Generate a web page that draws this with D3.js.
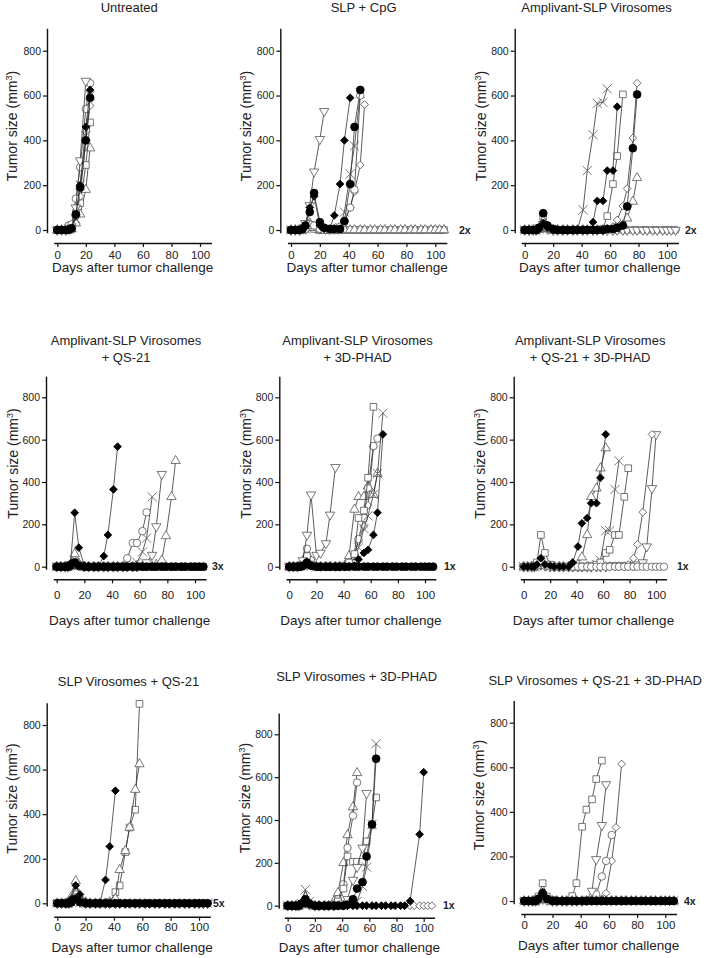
<!DOCTYPE html>
<html><head><meta charset="utf-8">
<script src="https://cdn.jsdelivr.net/npm/d3@7"></script>
<style>
body{margin:0;background:#fff}
svg{display:block}
text{font-family:"Liberation Sans",Arial,sans-serif;fill:#222}
</style>
</head><body>
<svg id="c" width="709" height="958"></svg>
<script>
// ---------- DATA ----------
const days = [0,3,6,8,10,13,16,20,23,27,30,34,37,41,44,48,51,55,58,62,65,69,72,76,79,83,86,90,93,97,100,103,106];
const titles = [["Untreated"],["SLP + CpG"],["Amplivant-SLP Virosomes"],
  ["Amplivant-SLP Virosomes","+ QS-21"],["Amplivant-SLP Virosomes","+ 3D-PHAD"],
  ["Amplivant-SLP Virosomes","+ QS-21 + 3D-PHAD"],
  ["SLP Virosomes + QS-21"],["SLP Virosomes + 3D-PHAD"],["SLP Virosomes + QS-21 + 3D-PHAD"]];
const tumorFree = ["","2x","2x","3x","1x","1x","5x","1x","4x"];
const yTicks = [0,200,400,600,800];
const xTicks = [0,20,40,60,80,100];
const xLabel = "Days after tumor challenge";

const untreated = [
  ["tu",[0,0,0,0,5,30,70,180,365]],
  ["os",[0,0,0,0,5,75,120,290,480]],
  ["od",[0,0,0,0,5,60,150,400,555]],
  ["x", [0,0,0,5,10,50,200,420,600]],
  ["oc",[0,0,0,20,25,140,280,540,655]],
  ["td",[0,0,0,5,10,100,310,665]],
  ["fd",[0,0,0,2,5,65,200,460,625]],
  ["fc",[0,0,0,2,8,70,190,400,590]]
];
const slpCpg = [
  ["os",[0,0,0,0,5,20,5,0,0,0, 0,0,0,0,0,0,0,0,0,0, 0,0,0,0,0,0,0,0,0,0, 0,0,0]],
  ["tu",[0,0,0,5,10,30,10,0,0,0, 0,0,0,0,0,0,0,0,0,0, 0,0,0,0,0,0,0,0,0,0, 0,0,0]],
  ["od",[0,0,0,0,5,15,20,5,0,0, 5,10,40,100,170,290,560]],
  ["x", [0,0,0,0,5,20,25,5,0,0, 0,10,80,250,375,610]],
  ["oc",[0,0,0,0,5,25,20,5,0,0, 5,15,35,100,180,600]],
  ["td",[0,0,0,10,30,110,260,405,530]],
  ["fd",[0,0,0,5,15,100,150,20,5,5, 65,205,400,590]],
  ["fc",[0,0,0,5,20,80,165,35,10,5, 5,5,40,205,460,625]]
];
const amplivant = [
  ["oc",[0,0,0,0,5,30,5,0,0,0, 0,0,0,0,0,0,0,0,0,0, 0,0,0,0,0,0,0,0,0,0, 0,0,0]],
  ["td",[0,0,0,0,5,25,5,0,0,0, 0,0,0,0,0,0,0,0,0,0, 0,0,0,0,0,0,0,0,0,0, 0,0,0]],
  ["tu",[0,0,0,0,5,25,5,0,0,0, 0,0,0,0,0,0,0,0,0,5, 15,20,52,127,233]],
  ["od",[0,0,0,0,5,20,5,0,0,0, 0,0,0,0,0,0,0,0,5,15, 45,107,185,410,655]],
  ["os",[0,0,0,0,5,60,10,0,0,0, 0,0,0,0,0,0,0,5,62,205, 330,605]],
  ["x", [0,0,0,0,5,20,5,0,0,0, 0,0,0,90,265,425,565,570,630]],
  ["fd",[0,0,0,0,5,30,10,0,0,0, 0,0,0,0,0,35,130,130,265,265, 550]],
  ["fc",[0,0,0,0,10,75,20,5,0,0, 0,0,0,0,0,0,0,0,5,5, 10,20,105,365,605]]
];
const ampQS21 = [
  ["tu",[0,0,0,0,10,60,15,0,0,0, 0,0,0,0,0,0,0,0,0,0, 0,0,10,30,145,330,500]],
  ["td",[0,0,0,0,5,15,5,0,0,0, 0,0,0,0,0,0,0,0,0,5, 20,55,190,437]],
  ["x", [0,0,0,0,5,20,5,0,0,0, 0,0,0,0,0,0,0,10,20,70, 135,330]],
  ["oc",[0,0,0,0,5,30,10,0,0,0, 0,0,0,0,0,5,40,112,112,168, 257]],
  ["os",[0,0,0,0,5,20,5,0,0,0, 0,0,0,0,0,0,0,0,0,0, 0,0,0,0,0,0,0,0,0,0, 0,0,0]],
  ["od",[0,0,0,0,5,15,5,0,0,0, 0,0,0,0,0,0,0,0,0,0, 0,0,0,0,0,0,0,0,0,0, 0,0,0]],
  ["fd",[0,0,0,5,15,255,90,5,0,0, 0,50,150,365,567]],
  ["fc",[0,0,0,0,5,20,5,0,0,0, 0,0,0,0,0,0,0,0,0,0, 0,0,0,0,0,0,0,0,0,0, 0,0,0]]
];
const ampPHAD = [
  ["od",[0,0,0,0,5,30,10,0,0,0, 0,0,0,0,20,60,120,190,290,567]],
  ["tu",[0,0,0,0,10,60,20,0,0,0, 0,0,0,5,50,270,330,330,380,340, 440]],
  ["oc",[0,0,0,0,10,85,30,0,0,0, 0,0,0,0,20,50,130,230,370,570, 605]],
  ["x", [0,0,0,0,5,30,5,0,0,0, 0,0,0,0,10,40,90,180,240,340, 440,725]],
  ["os",[0,0,0,0,10,50,10,0,0,0, 0,0,0,5,20,60,230,265,420,755]],
  ["td",[0,0,0,5,30,150,340,55,65,110, 245,470]],
  ["fd",[0,0,0,0,5,10,5,0,0,0, 0,0,0,0,0,5,35,65,80,150, 255,625]],
  ["fc",[0,0,0,0,5,20,5,0,0,0, 0,0,0,0,0,0,0,0,0,0, 0,0,0,0,0,0,0,0,0,0, 0,0,0]]
];
const ampQS21PHAD = [
  ["td",[0,0,0,0,5,10,5,0,0,0, 0,0,0,0,0,0,0,0,0,0, 5,5,5,5,5,5,10,20,95,370, 625]],
  ["od",[0,0,0,0,5,10,5,0,0,0, 0,0,0,0,0,0,0,0,0,5, 5,5,5,5,10,40,105,257,null,625]],
  ["x", [0,0,0,0,5,15,5,0,0,0, 0,0,0,0,0,0,5,10,30,170, 170,365,500]],
  ["tu",[0,0,0,0,5,20,5,0,0,0, 0,0,0,10,45,150,330,370,465,560]],
  ["os",[0,0,0,5,20,150,65,10,0,0, 0,0,0,0,0,0,5,10,20,65, 80,150,150,330,465]],
  ["oc",[0,0,0,0,5,20,5,0,0,0, 0,0,0,0,0,0,0,0,0,0, 0,0,0,0,0,0,0,0,0,0, 0,0,0]],
  ["fd",[0,0,0,0,10,40,10,5,0,0, 0,0,20,95,205,230,300,300,420,625]]
];
const slpQS21 = [
  ["os",[0,0,0,0,10,50,15,0,0,0, 0,0,5,50,80,230,340,420,895]],
  ["tu",[0,0,0,5,30,100,20,5,0,0, 0,0,5,20,150,235,340,510,625]],
  ["oc",[0,0,0,0,5,40,10,0,0,0, 0,0,0,0,0,0,0,0,0,0, 0,0,0,0,0,0,0,0,0,0, 0,0,0]],
  ["td",[0,0,0,0,5,30,5,0,0,0, 0,0,0,0,0,0,0,0,0,0, 0,0,0,0,0,0,0,0,0,0, 0,0,0]],
  ["od",[0,0,0,0,5,20,5,0,0,0, 0,0,0,0,0,0,0,0,0,0, 0,0,0,0,0,0,0,0,0,0, 0,0,0]],
  ["x", [0,0,0,0,5,25,5,0,0,0, 0,0,0,0,0,0,0,0,0,0, 0,0,0,0,0,0,0,0,0,0, 0,0,0]],
  ["fd",[0,0,0,5,20,80,40,5,0,0, 0,105,255,505]],
  ["fc",[0,0,0,0,5,20,5,0,0,0, 0,0,0,0,0,0,0,0,0,0, 0,0,0,0,0,0,0,0,0,0, 0,0,0]]
];
const slpPHAD = [
  ["od",[0,0,0,0,5,15,5,0,0,0, 0,0,0,0,0,0,0,0,0,0, 0,0,0,0,0,0,0,0,0,0, 0,0,0]],
  ["tu",[0,0,0,0,10,40,10,0,0,0, 0,20,60,200,330,460,620]],
  ["oc",[0,0,0,0,5,25,5,0,0,0, 0,10,30,100,270,420,575]],
  ["os",[0,0,0,0,5,20,5,0,0,0, 0,5,20,80,230,205,205,205,300,375, 505]],
  ["td",[0,0,0,0,5,15,5,0,0,0, 0,0,5,10,30,120,180,270,525]],
  ["x", [0,0,0,0,10,75,20,0,0,0, 0,0,0,0,5,10,20,90,180,380, 756]],
  ["fd",[0,0,0,0,5,10,5,0,0,0, 0,0,0,0,0,0,0,0,0,0, 0,0,0,0,0,0,0,22,null,333, 623]],
  ["fc",[0,0,0,0,10,30,10,0,0,0, 0,0,0,0,5,30,80,110,230,380, 686]]
];
const slpQS21PHAD = [
  ["od",[0,0,0,0,5,10,5,0,0,0, 0,0,0,0,0,0,5,10,35,180, 330,615]],
  ["oc",[0,0,0,0,5,15,5,0,0,0, 0,0,0,0,0,5,30,110,180,296]],
  ["td",[0,0,0,0,5,15,5,0,0,0, 0,0,0,0,5,45,187,340,523]],
  ["os",[0,0,0,5,20,80,20,5,0,0, 0,22,80,333,410,456,547,630]],
  ["tu",[0,0,0,0,5,20,5,0,0,0, 0,0,0,0,0,0,0,0,0,0, 0,0,0,0,0,0,0,0,0,0, 0,0,0]],
  ["x", [0,0,0,0,5,15,5,0,0,0, 0,0,0,0,0,0,0,0,0,0, 0,0,0,0,0,0,0,0,0,0, 0,0,0]],
  ["fd",[0,0,0,0,10,40,10,0,0,0, 0,0,0,0,0,0,0,0,0,0, 0,0,0,0,0,0,0,0,0,0, 0,0,0]],
  ["fc",[0,0,0,0,10,35,10,0,0,0, 0,0,0,0,0,0,0,0,0,0, 0,0,0,0,0,0,0,0,0,0, 0,0,0]]
];
const panelData = [untreated, slpCpg, amplivant, ampQS21, ampPHAD, ampQS21PHAD, slpQS21, slpPHAD, slpQS21PHAD];

// ---------- LAYOUT (pixel geometry per panel) ----------
const layout = [
 {ax:47,   x0:57.3,  x100:200,   y0:230,   y800:50.7,  xAxisY:243,   tickY:255,   xTitleY:267,   titleY:[7.3],       ytx:12,    yty:126,   freeX:0},
 {ax:280.3,x0:291,   x100:435.3, y0:230,   y800:50.7,  xAxisY:243,   tickY:255,   xTitleY:267,   titleY:[7.3],       ytx:246,   yty:126,   freeX:459},
 {ax:514.7,x0:524.7, x100:667,   y0:230,   y800:50.7,  xAxisY:243,   tickY:255,   xTitleY:267,   titleY:[7.3],       ytx:481,   yty:126,   freeX:685},
 {ax:46,   x0:56.7,  x100:195,   y0:566.7, y800:397.3, xAxisY:579.3, tickY:595,   xTitleY:620,   titleY:[340,357],   ytx:12.7,  yty:463.5, freeX:212},
 {ax:279.3,x0:289.3, x100:425,   y0:566.7, y800:397.3, xAxisY:579.3, tickY:595,   xTitleY:620,   titleY:[340,357],   ytx:245.5, yty:463.5, freeX:444},
 {ax:513.7,x0:523.7, x100:656,   y0:566.7, y800:397.3, xAxisY:579.3, tickY:595,   xTitleY:620,   titleY:[340,357],   ytx:480,   yty:463.5, freeX:677},
 {ax:46.7, x0:57.3,  x100:199,   y0:903.3, y800:725,   xAxisY:916.7, tickY:926.7, xTitleY:946.7, titleY:[681.7],     ytx:11.7,  yty:798.5, freeX:213},
 {ax:278.7,x0:287.7, x100:423.7, y0:905.7, y800:734.3, xAxisY:917.7, tickY:928,   xTitleY:946.7, titleY:[676.7],     ytx:245.3, yty:798,   freeX:443},
 {ax:513.7,x0:524.3, x100:665.3, y0:901,   y800:722.7, xAxisY:914,   tickY:925,   xTitleY:945,   titleY:[680],       ytx:479,   yty:795,   freeX:684}
];

// ---------- STYLE ----------
const timesSym = d3.symbolTimes || {draw(ctx, size){const r=Math.sqrt(size)/2.2;ctx.moveTo(-r,-r);ctx.lineTo(r,r);ctx.moveTo(-r,r);ctx.lineTo(r,-r);}};
const symStyle = {
  fc:{type:d3.symbolCircle,  size:48, fill:"#000", stroke:"#000", rot:0},
  fd:{type:d3.symbolSquare,  size:30, fill:"#000", stroke:"#000", rot:45},
  oc:{type:d3.symbolCircle,  size:44, fill:"#fff", stroke:"#555", rot:0},
  os:{type:d3.symbolSquare,  size:44, fill:"#fff", stroke:"#555", rot:0},
  tu:{type:d3.symbolTriangle,size:38, fill:"#fff", stroke:"#555", rot:0},
  td:{type:d3.symbolTriangle,size:38, fill:"#fff", stroke:"#555", rot:180},
  od:{type:d3.symbolSquare,  size:30, fill:"#fff", stroke:"#555", rot:45},
  x: {type:timesSym,         size:56, fill:"none", stroke:"#555", rot:0}
};

const svg = d3.select("#c");

panelData.forEach((series, pi) => {
  const L = layout[pi];
  const k = (L.y0 - L.y800) / 800;
  const y = d3.scaleLinear().domain([-12, 900]).range([L.y0 + 12*k, L.y0 - 900*k]);
  const kx = (L.x100 - L.x0) / 100;
  const x = d3.scaleLinear().domain([-2.5, 108]).range([L.x0 - 2.5*kx, L.x0 + 108*kx]);
  const g = svg.append("g");

  // y axis
  const ya = g.append("g").attr("transform", `translate(${L.ax},0)`)
    .call(d3.axisLeft(y).tickValues(yTicks).tickSize(4).tickSizeOuter(0).tickPadding(2));
  ya.select(".domain").attr("stroke","#111").attr("stroke-width",1.4);
  ya.selectAll(".tick line").attr("stroke","#111").attr("stroke-width",1.2);
  ya.selectAll(".tick text").attr("font-size",10.5).attr("fill","#222")
    .attr("font-family",'"Liberation Sans",Arial,sans-serif');

  // x axis
  const xa = g.append("g").attr("transform", `translate(0,${L.xAxisY})`)
    .call(d3.axisBottom(x).tickValues(xTicks).tickSize(4).tickSizeOuter(0));
  xa.select(".domain").attr("stroke","#111").attr("stroke-width",1.4);
  xa.selectAll(".tick line").attr("stroke","#111").attr("stroke-width",1.2);
  xa.selectAll(".tick text").attr("font-size",11.5).attr("fill","#222")
    .attr("font-family",'"Liberation Sans",Arial,sans-serif')
    .attr("y", L.tickY - L.xAxisY).attr("dy","0.36em");

  // titles
  const tcx = (L.ax + x(108)) / 2;
  titles[pi].forEach((t, li) => {
    g.append("text").attr("x", tcx).attr("y", L.titleY[li]).attr("dy","0.36em")
      .attr("text-anchor","middle").attr("font-size",13).text(t);
  });
  // x title
  g.append("text").attr("x", (x(-2.5)+x(108))/2).attr("y", L.xTitleY).attr("dy","0.36em")
    .attr("text-anchor","middle").attr("font-size",13.5).text(xLabel);
  // y title
  const yt = g.append("text").attr("transform", `translate(${L.ytx},${L.yty}) rotate(-90)`)
    .attr("text-anchor","middle").attr("dy","0.36em").attr("font-size",14);
  yt.append("tspan").text("Tumor size (mm");
  yt.append("tspan").attr("dy",-5).attr("font-size",9).text("3");
  yt.append("tspan").attr("dy",5).text(")");

  // series
  const line = d3.line().x(p => x(p.d)).y(p => y(p.v));
  series.forEach(([sym, vals]) => {
    const pts = [];
    vals.forEach((v, i) => { if (v !== null && v !== undefined) pts.push({d: days[i], v}); });
    const st = symStyle[sym];
    const sg = g.append("g");
    sg.append("path").datum(pts).attr("d", line).attr("fill","none")
      .attr("stroke","#333").attr("stroke-width",0.8);
    sg.selectAll("path.m").data(pts).join("path").attr("class","m")
      .attr("transform", p => `translate(${x(p.d)},${y(p.v)}) rotate(${st.rot})`)
      .attr("d", d3.symbol().type(st.type).size(st.size))
      .attr("fill", st.fill).attr("stroke", st.stroke).attr("stroke-width",0.8);
  });

  if (tumorFree[pi]) {
    g.append("text").attr("x", L.freeX).attr("y", y(0)).attr("dy","0.36em")
      .attr("font-size",10.5).attr("font-weight","bold").attr("fill","#111").text(tumorFree[pi]);
  }
});
</script>
</body></html>
